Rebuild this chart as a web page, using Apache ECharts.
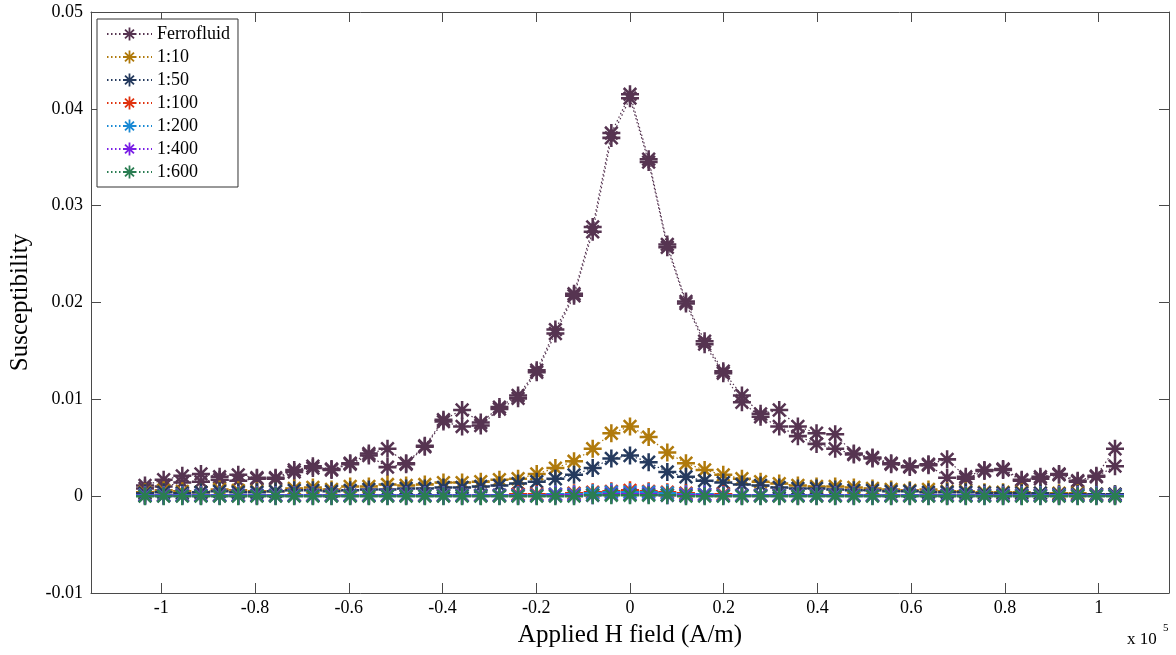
<!DOCTYPE html>
<html><head><meta charset="utf-8">
<script src="https://cdn.jsdelivr.net/npm/echarts@6/dist/echarts.min.js"></script>
<style>html,body{margin:0;padding:0;background:#fff}#c{width:1176px;height:655px}</style>
</head><body><div id="c"></div>
<script>
// Applied H field (A/m)
const field = [-103480,-99500,-95520,-91540,-87560,-83580,-79600,-75620,-71640,-67660,-63680,-59700,-55720,-51740,-47760,-43780,-39800,-35820,-31840,-27860,-23880,-19900,-15920,-11940,-7960,-3980,0,3980,7960,11940,15920,19900,23880,27860,31840,35820,39800,43780,47760,51740,55720,59700,63680,67660,71640,75620,79600,83580,87560,91540,95520,99500,103480];

// Ferrofluid: sweep up and sweep down (values at same field positions)
const ferroUp = [0.0011,0.0017,0.0021,0.0023,0.0020,0.0022,0.0019,0.0019,0.0027,0.0031,0.0028,0.0034,0.0044,0.0049,0.0034,0.0052,0.0079,0.0089,0.0076,0.0092,0.0104,0.0130,0.0172,0.0209,0.0278,0.0375,0.0415,0.0348,0.0260,0.0201,0.0160,0.0129,0.0104,0.0085,0.0089,0.0072,0.0065,0.0064,0.0044,0.0040,0.0034,0.0031,0.0033,0.0038,0.0020,0.0027,0.0028,0.0017,0.0020,0.0023,0.0016,0.0021,0.0049];
const ferroDown = [0.0008,0.0010,0.0014,0.0015,0.0017,0.0016,0.0018,0.0018,0.0025,0.0029,0.0027,0.0033,0.0042,0.0030,0.0033,0.0051,0.0077,0.0072,0.0073,0.0090,0.0101,0.0128,0.0168,0.0207,0.0273,0.0370,0.0411,0.0345,0.0257,0.0199,0.0157,0.0127,0.0097,0.0082,0.0072,0.0062,0.0054,0.0049,0.0043,0.0039,0.0033,0.0030,0.0032,0.0019,0.0018,0.0026,0.0027,0.0016,0.0018,0.0022,0.0015,0.0020,0.0031];

const dil10 = [0.0004,0.0006,0.0005,0.0004,0.0007,0.0006,0.0005,0.0005,0.0008,0.0009,0.0007,0.0010,0.0010,0.0012,0.0011,0.0012,0.0014,0.0014,0.0015,0.0017,0.0018,0.0023,0.0029,0.0036,0.0049,0.0065,0.0072,0.0061,0.0045,0.0034,0.0027,0.0022,0.0018,0.0015,0.0013,0.0011,0.0010,0.0010,0.0009,0.0008,0.0007,0.0006,0.0007,0.0005,0.0005,0.0004,0.0004,0.0004,0.0003,0.0003,0.0003,0.0002,0.0002];
const dil50 = [0.0003,0.0004,0.0003,0.0004,0.0005,0.0004,0.0004,0.0005,0.0006,0.0006,0.0005,0.0006,0.0007,0.0007,0.0008,0.0008,0.0009,0.0009,0.0010,0.0011,0.0013,0.0015,0.0018,0.0022,0.0029,0.0039,0.0042,0.0035,0.0025,0.0020,0.0016,0.0014,0.0012,0.0011,0.0009,0.0008,0.0008,0.0007,0.0006,0.0006,0.0005,0.0005,0.0004,0.0004,0.0004,0.0003,0.0003,0.0003,0.0003,0.0002,0.0002,0.0002,0.0002];
const dil100 = [0.0001,0.0001,0.0001,0.0001,0.0001,0.0001,0.0001,0.0001,0.0001,0.0001,0.0001,0.0001,0.0001,0.0001,0.0001,0.0001,0.0001,0.0001,0.0001,0.0001,0.0002,0.0002,0.0002,0.0003,0.0004,0.0005,0.0006,0.0005,0.0004,0.0003,0.0002,0.0002,0.0001,0.0001,0.0001,0.0001,0.0001,0.0001,0.0001,0.0001,0.0001,0.0001,0.0001,0.0001,0.0001,0.0001,0.0001,0.0001,0.0001,0.0001,0.0001,0.0001,0.0001];
const dil200 = [0.0001,0.0001,0.0001,0.0001,0.0001,0.0001,0.0001,0.0001,0.0001,0.0001,0.0001,0.0001,0.0001,0.0001,0.0001,0.0001,0.0001,0.0001,0.0001,0.0001,0.0001,0.0001,0.0002,0.0002,0.0003,0.0004,0.0004,0.0004,0.0003,0.0002,0.0002,0.0001,0.0001,0.0001,0.0001,0.0001,0.0001,0.0001,0.0001,0.0001,0.0001,0.0001,0.0001,0.0001,0.0001,0.0001,0.0001,0.0001,0.0001,0.0001,0.0001,0.0001,0.0001];
const dil400 = [0.00005,0.00005,0.00005,0.00005,0.00005,0.00005,0.00005,0.00005,0.00005,0.00005,0.00005,0.00005,0.00005,0.00005,0.00005,0.00005,0.00005,0.00005,0.00005,0.00005,0.00005,0.00005,0.0001,0.0001,0.0001,0.0002,0.0002,0.0002,0.0001,0.0001,0.0001,0.00005,0.00005,0.00005,0.00005,0.00005,0.00005,0.00005,0.00005,0.00005,0.00005,0.00005,0.00005,0.00005,0.00005,0.00005,0.00005,0.00005,0.00005,0.00005,0.00005,0.00005,0.00005];
const dil600 = [0.0000,0.0000,0.0000,0.0000,0.0000,0.0000,0.0000,0.0000,0.0000,0.0000,0.0000,0.0000,0.0000,0.0000,0.0000,0.0000,0.0000,0.0000,0.0000,0.0000,0.0000,0.0000,0.0000,0.0000,0.0001,0.0001,0.0001,0.0001,0.0001,0.0000,0.0000,0.0000,0.0000,0.0000,0.0000,0.0000,0.0000,0.0000,0.0000,0.0000,0.0000,0.0000,0.0000,0.0000,0.0000,0.0000,0.0000,0.0000,0.0000,0.0000,0.0000,0.0000,0.0000];

const seriesNames = ['Ferrofluid','1:10','1:50','1:100','1:200','1:400','1:600'];
const seriesColors = ['#563451','#b07a0c','#253a5e','#e0320e','#1989d4','#7a1fe6','#2a7d52'];
const xTickValues = [-100000,-80000,-60000,-40000,-20000,0,20000,40000,60000,80000,100000];
const xTickLabels = ['-1','-0.8','-0.6','-0.4','-0.2','0','0.2','0.4','0.6','0.8','1'];
const yTickLabels = ['-0.01','0','0.01','0.02','0.03','0.04','0.05'];

const FONT = 'Liberation Serif';
// asterisk marker built from four filled bars
const STAR = 'path://M-1.4,-10L1.4,-10L1.4,10L-1.4,10Z' +
  'M-10,-1.4L10,-1.4L10,1.4L-10,1.4Z' +
  'M-6.01,-7.99L7.99,6.01L6.01,7.99L-7.99,-6.01Z' +
  'M-7.99,6.01L6.01,-7.99L7.99,-6.01L-6.01,7.99Z';

function pairs(ys){ return field.map((x,i)=>[x, ys[i]]); }
const ferroData = pairs(ferroUp).concat(pairs(ferroDown).reverse());
const allData = [ferroData, pairs(dil10), pairs(dil50), pairs(dil100), pairs(dil200), pairs(dil400), pairs(dil600)];

const series = seriesNames.map((name, k) => ({
  name, type:'line', data: allData[k],
  symbol: STAR, symbolSize: 18, symbolKeepAspect: true, showAllSymbol: true,
  lineStyle: {color: seriesColors[k], width: 1.2, type: [1.5, 2.5]},
  itemStyle: {color: seriesColors[k]},
  emphasis: {disabled: true}, silent: true, animation: false
}));

const axisLineStyle = {onZero: false, lineStyle:{color:'#4a4a4a', width:1}};
const tickStyle = {inside:true, length:10, lineStyle:{color:'#4a4a4a'}};
const chart = echarts.init(document.getElementById('c'), null, {renderer:'canvas'});
chart.setOption({
  animation: false,
  backgroundColor: '#fff',
  grid: {left: 90, right: 7, top: 12, bottom: 62},
  xAxis: [{
    type:'value', min:-115000, max:115000, position:'bottom',
    axisLine: axisLineStyle,
    axisTick: Object.assign({customValues: xTickValues}, tickStyle),
    axisLabel: {customValues: xTickValues, formatter: v => xTickLabels[xTickValues.indexOf(v)], fontFamily: FONT, fontSize: 18, color:'#000', margin: 6},
    splitLine: {show:false},
    name: 'Applied H field (A/m)', nameLocation:'middle', nameGap: 30,
    nameTextStyle: {fontFamily: FONT, fontSize: 25, color:'#000'}
  },{
    type:'value', min:-115000, max:115000, position:'top',
    axisLine: axisLineStyle,
    axisTick: Object.assign({customValues: xTickValues}, tickStyle),
    axisLabel: {show:false}, splitLine:{show:false}
  }],
  yAxis: [{
    type:'value', min:-0.01, max:0.05, interval:0.01, position:'left',
    axisLine: axisLineStyle,
    axisTick: tickStyle,
    axisLabel: {formatter: (v, i) => yTickLabels[i], fontFamily: FONT, fontSize: 18, color:'#000', margin: 8},
    splitLine: {show:false},
    name: 'Susceptibility', nameLocation:'middle', nameGap: 58, nameRotate: 90,
    nameTextStyle: {fontFamily: FONT, fontSize: 25, color:'#000'}
  },{
    type:'value', min:-0.01, max:0.05, interval:0.01, position:'right',
    axisLine: axisLineStyle,
    axisTick: tickStyle,
    axisLabel: {show:false}, splitLine:{show:false}
  }],
  legend: {
    orient:'vertical', left: 97, top: 19, padding: [6, 8, 6, 9], itemGap: 5,
    itemWidth: 45, itemHeight: 16, backgroundColor:'#fff', borderColor:'#333', borderWidth: 1, borderRadius: 0,
    textStyle: {fontFamily: FONT, fontSize: 18, color:'#000'},
    data: seriesNames, selectedMode: false
  },
  graphic: [
    {type:'text', left: 1127, top: 631, style:{text:'x 10', font: '17px "Liberation Serif"', fill:'#000'}},
    {type:'text', left: 1163, top: 623, style:{text:'5', font: '11px "Liberation Serif"', fill:'#000'}}
  ],
  series
});
</script></body></html>
